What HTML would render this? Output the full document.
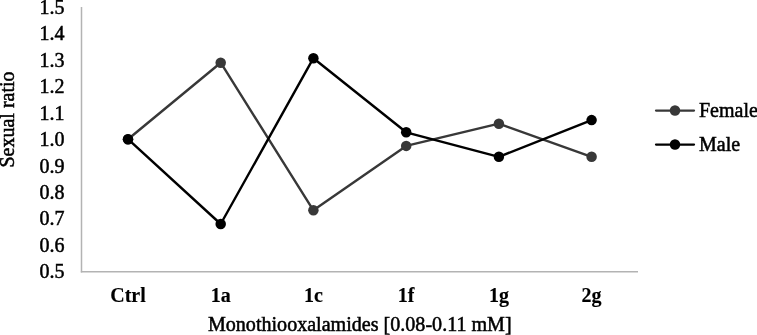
<!DOCTYPE html>
<html>
<head>
<meta charset="utf-8">
<style>
html,body{margin:0;padding:0;background:#fff;width:757px;height:335px;overflow:hidden}
svg{display:block;will-change:transform;font-family:"Liberation Serif",serif}
text{stroke:#000;stroke-width:0.5px;paint-order:stroke}
.b text{stroke-width:0.15px}
</style>
</head>
<body>
<svg width="757" height="335" viewBox="0 0 757 335">
<rect width="757" height="335" fill="#fff"/>
<!-- axes -->
<g stroke="#b3b3b3" stroke-width="1.5" fill="none">
<line x1="81.5" y1="7" x2="81.5" y2="272.4"/>
<line x1="80.85" y1="271.7" x2="638" y2="271.7"/>
</g>
<!-- y tick labels -->
<g font-size="20" fill="#000" text-anchor="end">
<text x="64.5" y="14.05">1.5</text>
<text x="64.5" y="40.48">1.4</text>
<text x="64.5" y="66.91">1.3</text>
<text x="64.5" y="93.34">1.2</text>
<text x="64.5" y="119.77">1.1</text>
<text x="64.5" y="146.2">1.0</text>
<text x="64.5" y="172.63">0.9</text>
<text x="64.5" y="199.06">0.8</text>
<text x="64.5" y="225.49">0.7</text>
<text x="64.5" y="251.92">0.6</text>
<text x="64.5" y="278.35">0.5</text>
</g>
<!-- x labels -->
<g class="b" font-size="20" font-weight="bold" fill="#000" text-anchor="middle">
<text x="128" y="302.4">Ctrl</text>
<text x="220.7" y="302.4">1a</text>
<text x="313.4" y="302.4">1c</text>
<text x="406.2" y="302.4">1f</text>
<text x="498.9" y="302.4">1g</text>
<text x="591.6" y="302.4">2g</text>
</g>
<text x="359.8" y="331.4" font-size="20.08" text-anchor="middle" fill="#000">Monothiooxalamides [0.08-0.11 mM]</text>
<text transform="translate(14,119.5) rotate(-90)" font-size="20" text-anchor="middle" fill="#000">Sexual ratio</text>
<!-- female -->
<polyline fill="none" stroke="#383838" stroke-width="2.4" stroke-linejoin="round" points="128,139.2 220.7,62.7 313.4,210.3 406.2,145.9 498.9,123.7 591.6,156.8"/>
<g fill="#383838">
<circle cx="128" cy="139.2" r="5.25"/>
<circle cx="220.7" cy="62.7" r="5.25"/>
<circle cx="313.4" cy="210.3" r="5.25"/>
<circle cx="406.2" cy="145.9" r="5.25"/>
<circle cx="498.9" cy="123.7" r="5.25"/>
<circle cx="591.6" cy="156.8" r="5.25"/>
</g>
<!-- male -->
<polyline fill="none" stroke="#000" stroke-width="2.4" stroke-linejoin="round" points="128,139.2 220.7,224 313.4,58.2 406.2,132.3 498.9,156.8 591.6,120.1"/>
<g fill="#000">
<circle cx="128" cy="139.2" r="5.25"/>
<circle cx="220.7" cy="224" r="5.25"/>
<circle cx="313.4" cy="58.2" r="5.25"/>
<circle cx="406.2" cy="132.3" r="5.25"/>
<circle cx="498.9" cy="156.8" r="5.25"/>
<circle cx="591.6" cy="120.1" r="5.25"/>
</g>
<!-- legend -->
<line x1="656" y1="110.5" x2="694" y2="110.5" stroke="#383838" stroke-width="2.25" stroke-linecap="round"/>
<circle cx="675" cy="110.5" r="5.25" fill="#383838"/>
<text x="699" y="116.5" font-size="20" fill="#000">Female</text>
<line x1="656" y1="144.5" x2="694" y2="144.5" stroke="#000" stroke-width="2.25" stroke-linecap="round"/>
<circle cx="675" cy="144.5" r="5.25" fill="#000"/>
<text x="699" y="150.5" font-size="20" fill="#000">Male</text>
</svg>
</body>
</html>
